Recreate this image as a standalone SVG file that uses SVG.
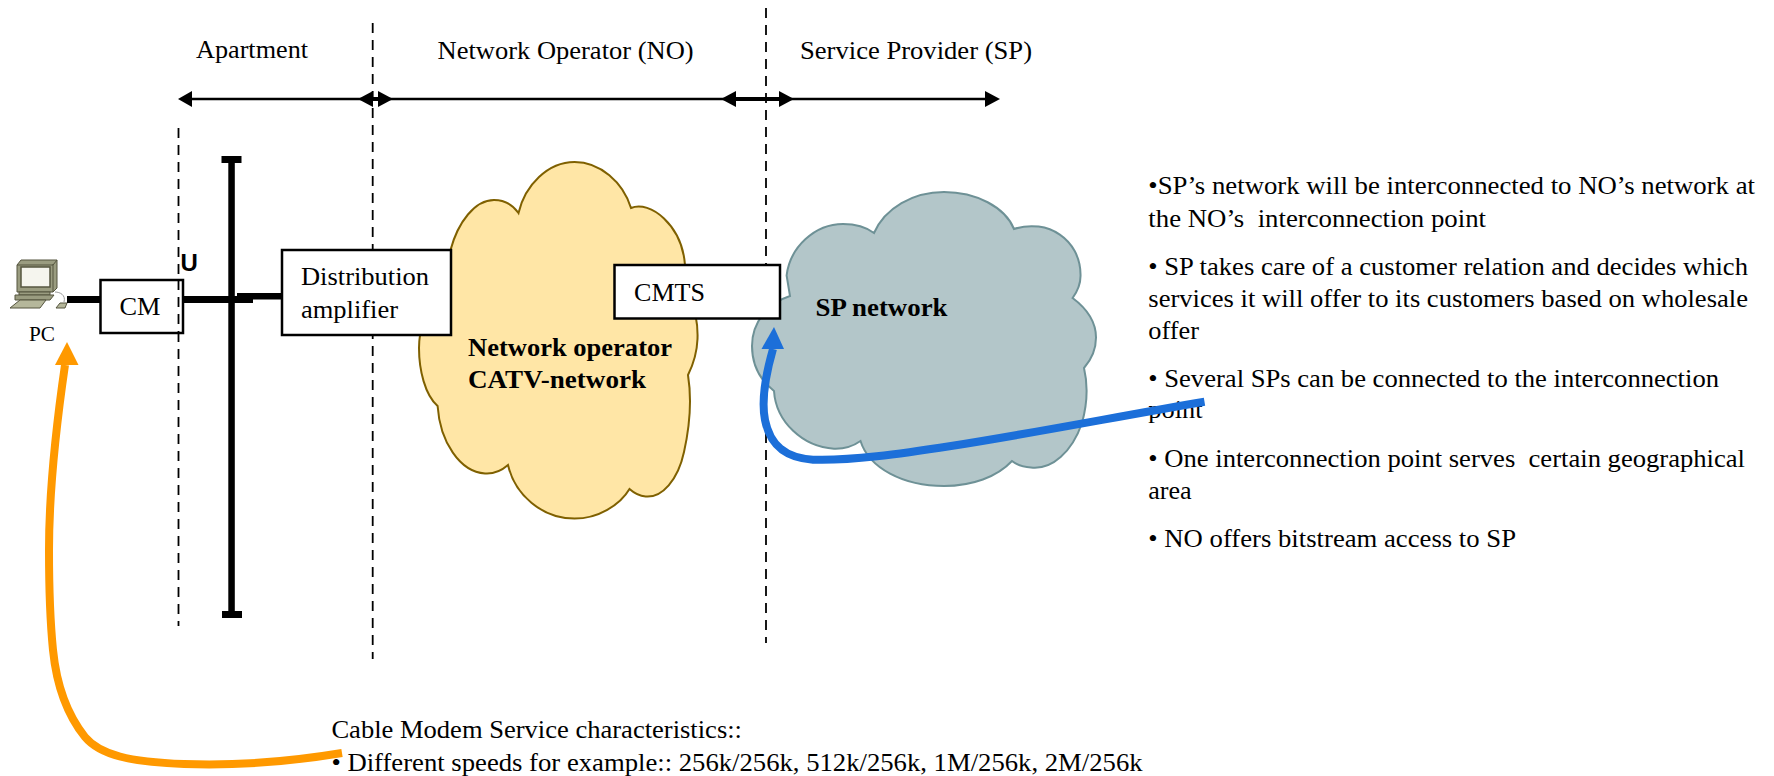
<svg xmlns="http://www.w3.org/2000/svg" width="1774" height="776" viewBox="0 0 1774 776">
<style>
text{font-family:"Liberation Serif","Times New Roman",serif;font-size:26px;fill:#000;white-space:pre}
.b{font-weight:bold}
.box{fill:#fff;stroke:#000;stroke-width:2.5}
.dash{fill:none;stroke:#000;stroke-width:1.8;stroke-dasharray:10 7}
.thin{fill:none;stroke:#000;stroke-width:2.5}
.thick{fill:#000}
.pc{fill:#9A9C80;stroke:#55553F;stroke-width:1}
</style>
<rect width="1774" height="776" fill="#fff"/>
<line class="dash" x1="766" y1="8" x2="766" y2="643"/>
<g id="cloud-no"><path d="M518.5 213C525 185 548 162 574.5 162C600 162 623 182 631 208C650 200 682 225 685 265L690 300C695 310 698 325 697.5 339C697 352 693 365 688 375C692 400 690 425 684 452C678 480 662 498 645.6 496.5C640 496 634 493 629.5 489C620 505 598 518.6 574.5 518.6C542 518.6 515 495 508 465C500 472 492 474 485 473.5C460 472 440 442 437.6 406C425 395 419 370 419 348C419 325 428 310 436 300C440 285 445 265 450.5 250C458 222 475 200 494 200C504 200 513 205 518.5 213Z" fill="#FFE6A6" stroke="#7F6000" stroke-width="2"/></g>
<g id="cloud-sp"><path d="M874 233C885 208 913 192 944 192C976 192 1005 207 1014 229C1048 218 1080 240 1080.5 274C1081 283 1077 292 1072.6 298C1086 308 1096 322 1096 337.5C1096 349 1091 360 1084 368C1088 385 1087 405 1082 423C1072 452 1052 470 1031 467.6C1023 467 1017 465 1012 461C997 477 972 486 944 486C903 486 869 468 860.5 441C852 447 843 449 834 448.7C803 447 776 422 774 391C760 380 752 364 752 346C752 322 768 303 790 296L786.6 275.5C790 247 815 224 843 224C855 224 866 227 874 233Z" fill="#B3C6C9" stroke="#6E9196" stroke-width="2"/></g>
<g id="connectors">
<line class="dash" x1="178.5" y1="128" x2="178.5" y2="626"/>
<line class="dash" x1="372.7" y1="23" x2="372.7" y2="659"/>
<line class="thin" x1="185" y1="99" x2="992" y2="99"/>
<rect class="thick" x="373" y="97" width="5" height="4"/>
<rect class="thick" x="736" y="97" width="43" height="4"/>
<path class="thick" d="M178 99L192 91V107Z"/>
<path class="thick" d="M358 99L373 91V107Z"/>
<path class="thick" d="M393 99L378 91V107Z"/>
<path class="thick" d="M721 99L736 91V107Z"/>
<path class="thick" d="M794 99L779 91V107Z"/>
<path class="thick" d="M1000 99L985 91V107Z"/>
<rect class="thick" x="228.3" y="159" width="6.5" height="457"/>
<rect class="thick" x="221.5" y="156" width="20" height="7"/>
<rect class="thick" x="222" y="611" width="20" height="7"/>
<rect class="thick" x="67" y="296" width="39" height="7"/>
<rect class="thick" x="183" y="296" width="70" height="7"/>
<rect class="thick" x="237" y="293" width="45" height="6.5"/>
</g>
<g id="node-cm"><rect class="box" x="100.5" y="280" width="82.5" height="53"/><text x="119.5" y="315" textLength="41" lengthAdjust="spacingAndGlyphs">CM</text></g>
<line class="dash" x1="178.5" y1="280" x2="178.5" y2="333"/>
<g id="label-u"><text x="180.5" y="271" style="font-family:'Liberation Sans',Arial,sans-serif;font-size:24px;font-weight:bold">U</text></g>
<g id="node-distribution"><rect class="box" x="282" y="250" width="169" height="85"/><text x="301" y="285" textLength="128" lengthAdjust="spacingAndGlyphs">Distribution</text><text x="301" y="318" textLength="97" lengthAdjust="spacingAndGlyphs">amplifier</text></g>
<g id="node-cmts"><rect class="box" x="614.5" y="265" width="165.5" height="53.5"/><text x="634" y="301" textLength="71" lengthAdjust="spacingAndGlyphs">CMTS</text></g>
<g id="node-pc">
<path class="pc" d="M17 265L21 260H57V288L53 292H17Z"/>
<path d="M53 264V292M17 265H53L57 260" fill="none" stroke="#55553F" stroke-width="1"/>
<rect x="21" y="267" width="29" height="20" fill="#F5F5EE" stroke="#55553F" stroke-width="1.5"/>
<rect class="pc" x="19" y="292" width="31" height="3"/>
<path class="pc" d="M15 295H54L50 300H15Z"/>
<path d="M20 300H46L40 308H10Z" fill="#B5B79B" stroke="#55553F" stroke-width="1"/>
<path d="M56 308L60 303H67L65 308Z" fill="#B5B79B" stroke="#55553F" stroke-width="1"/>
<path d="M55 292C60 292 66 295 64 302" fill="none" stroke="#999" stroke-width="1"/>
<text x="29" y="341" style="font-size:20px" textLength="26" lengthAdjust="spacingAndGlyphs">PC</text>
</g>
<g id="labels">
<text x="196" y="58" textLength="112" lengthAdjust="spacingAndGlyphs">Apartment</text>
<text x="437.6" y="59" textLength="256" lengthAdjust="spacingAndGlyphs">Network Operator (NO)</text>
<text x="800" y="59" textLength="232" lengthAdjust="spacingAndGlyphs">Service Provider (SP)</text>
<text class="b" x="468" y="356" textLength="204" lengthAdjust="spacingAndGlyphs">Network operator</text>
<text class="b" x="468" y="388" textLength="178" lengthAdjust="spacingAndGlyphs">CATV-network</text>
<text class="b" x="815.5" y="316" textLength="132" lengthAdjust="spacingAndGlyphs">SP network</text>
</g>
<g id="notes">
<text x="1148.3" y="194" textLength="606.7" lengthAdjust="spacingAndGlyphs">•SP’s network will be interconnected to NO’s network at</text>
<text x="1148.3" y="227" textLength="337.7" lengthAdjust="spacingAndGlyphs">the NO’s  interconnection point</text>
<text x="1148.3" y="275" textLength="599.7" lengthAdjust="spacingAndGlyphs">• SP takes care of a customer relation and decides which</text>
<text x="1148.3" y="307" textLength="599.7" lengthAdjust="spacingAndGlyphs">services it will offer to its customers based on wholesale</text>
<text x="1148.3" y="339" textLength="50.7" lengthAdjust="spacingAndGlyphs">offer</text>
<text x="1148.3" y="387" textLength="570.7" lengthAdjust="spacingAndGlyphs">• Several SPs can be connected to the interconnection</text>
<text x="1148.3" y="418" textLength="54.2" lengthAdjust="spacingAndGlyphs">point</text>
<text x="1148.3" y="467" textLength="596.7" lengthAdjust="spacingAndGlyphs">• One interconnection point serves  certain geographical</text>
<text x="1148.3" y="499" textLength="43.4" lengthAdjust="spacingAndGlyphs">area</text>
<text x="1148.3" y="547" textLength="367.7" lengthAdjust="spacingAndGlyphs">• NO offers bitstream access to SP</text>
<text x="331.4" y="738" textLength="410.6" lengthAdjust="spacingAndGlyphs">Cable Modem Service characteristics::</text>
<text x="331.4" y="771" textLength="811.2" lengthAdjust="spacingAndGlyphs">• Different speeds for example:: 256k/256k, 512k/256k, 1M/256k, 2M/256k</text>
</g>
<g id="curves">
<path d="M1204.5 401.7C1120 416 1040 432 951 446C900 454 850 461 813 459.7C785 458 770 445 765 420C761 400 767 370 773 349" fill="none" stroke="#1C6FD9" stroke-width="8"/>
<path d="M774 327L784 349H761.5Z" fill="#1C6FD9"/>
<path d="M342 753C300 760 240 766 184 764C130 762 100 755 85 737C65 712 56 680 53 650C50 620 49 590 49 550C49 490 57 420 65 365" fill="none" stroke="#FF9900" stroke-width="8"/>
<path d="M67 342L78.5 365H55Z" fill="#FF9900"/>
</g>
</svg>
